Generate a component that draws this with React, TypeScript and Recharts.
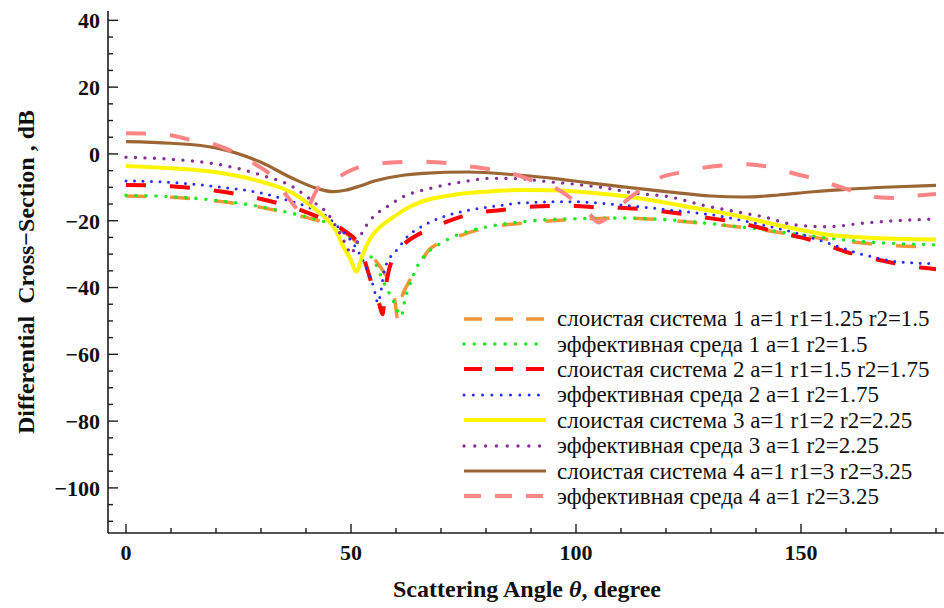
import React from 'react'
import { LineChart, Line, XAxis, YAxis, Legend } from 'recharts'

// scattering angle (degree), differential cross-section (dB)
const layered1 = [
  [0, -12.6], [10, -13.0], [20, -14.1], [30, -16.0], [35, -17.4], [40, -19.0], [45, -21.0], [48, -23.0],
  [52, -27.3], [54.5, -30.5], [56.5, -33.8], [58.5, -38.5], [59.7, -43.5], [60.4, -49.5], [61.3, -43.0],
  [62.4, -39.5], [64.7, -34.5], [67.5, -28.5], [72, -25.7], [78, -22.8], [81.5, -21.8], [90, -20.5],
  [100, -19.6], [110, -19.2], [120, -19.8], [130, -21.0], [140, -22.5], [150, -24.5], [160, -26.2],
  [170, -27.4], [180, -27.8],
]
const effective1 = [
  [0, -12.4], [10, -12.8], [20, -13.9], [30, -15.8], [35, -17.2], [40, -18.8], [45, -20.8], [48, -23.0],
  [50, -25.0], [53.5, -29.3], [55.5, -33.0], [57, -37.7], [59.3, -43.7], [61.2, -48.5], [62, -43.5],
  [62.7, -40.5], [63.8, -36.5], [65, -33.0], [67, -29.5], [69, -27.6], [72.7, -24.8], [76, -23.2],
  [80, -21.9], [87.6, -20.4], [95, -19.6], [100, -19.4], [110, -19.2], [120, -19.7], [130, -20.9],
  [140, -22.4], [150, -24.2], [160, -25.8], [170, -26.8], [180, -27.2],
]
const layered2 = [
  [0, -9.3], [10, -9.7], [20, -11.0], [30, -13.5], [35, -15.2], [40, -17.4], [45, -20.3], [48.3, -22.8],
  [52, -27.8], [53.5, -34.0], [55, -40.5], [56.3, -45.0], [57, -48.0], [57.6, -41.0], [58.3, -35.5],
  [60.2, -29.6], [62, -26.8], [64.7, -24.3], [67.5, -22.5], [73.5, -19.2], [77.5, -17.7], [83.5, -16.8],
  [87.5, -16.0], [95, -15.6], [100, -15.6], [105, -16.0], [110, -16.1], [115, -16.6], [120, -17.3],
  [125, -18.2], [130, -19.3], [135, -20.3], [140, -21.8], [145, -23.5], [150, -25.0], [155, -26.9],
  [160, -29.3], [165, -31.0], [170, -32.5], [175, -33.7], [180, -34.5],
]
const effective2 = [
  [0, -8.1], [10, -8.5], [20, -9.8], [30, -11.7], [35, -13.5], [40, -15.7], [44.7, -18.8], [47.6, -22.5],
  [50.5, -26.8], [52.7, -32.0], [54, -36.0], [55, -39.7], [56, -44.6], [56.6, -41.5], [57.3, -35.5],
  [58.5, -31.5], [60.2, -28.7], [62.7, -24.5], [65, -22.3], [70.5, -18.8], [76.4, -16.8], [84, -15.3],
  [87.6, -14.7], [98.7, -14.3], [110, -15.3], [121, -16.8], [132, -18.6], [141.6, -21.3], [149, -23.7],
  [156, -26.7], [164, -30.2], [171, -32.2], [180, -32.9],
]
const layered3 = [
  [0, -3.6], [10, -4.3], [20, -5.5], [30, -8.3], [37, -11.7], [42, -16.5], [44.6, -19.5], [46.8, -23.3],
  [48.3, -27.8], [49.7, -31.0], [51.2, -35.2], [52.5, -30.5], [54.2, -25.5], [56.5, -21.8], [58.7, -19.6],
  [62, -16.6], [65.3, -14.5], [72.7, -12.3], [80, -11.3], [87.6, -10.8], [95, -10.9], [102, -11.5],
  [113.6, -13.2], [124.7, -15.8], [135, -18.3], [141.6, -20.3], [149, -22.5], [156.4, -24.3], [164, -25.0],
  [171, -25.4], [180, -25.6],
]
const effective3 = [
  [0, -1.0], [10, -1.6], [20, -3.0], [30, -6.3], [37, -9.8], [42, -14.7], [44.7, -17.7], [47, -22.5],
  [49, -27.5], [50, -30.0], [51, -27.5], [52.5, -23.5], [54, -20.3], [56, -17.6], [58, -15.8], [61.6, -12.8],
  [67.6, -10.3], [75, -8.3], [81, -7.3], [87, -7.4], [93, -8.2], [100, -9.1], [106, -10.1], [113, -11.7],
  [121, -12.9], [128, -15.3], [136, -17.4], [141.6, -18.8], [149, -21.3], [156, -21.8], [164, -20.7],
  [171, -20.0], [180, -19.5],
]
const layered4 = [
  [0, 3.7], [10, 3.2], [20, 1.8], [30, -2.5], [37, -7.3], [42.4, -10.3], [46, -11.3], [49, -10.8],
  [52, -9.6], [55, -8.2], [58, -7.2], [62, -6.3], [66, -5.8], [76, -5.4], [87, -6.3], [95, -7.3],
  [102, -8.5], [110, -9.8], [120, -11.3], [130, -12.6], [137, -12.9], [145, -12.3], [152, -11.4],
  [160, -10.6], [170, -9.9], [180, -9.4],
]
const effective4 = [
  [0, 6.2], [5, 6.1], [10, 5.6], [14.3, 4.2], [20, 2.7], [24, 0.5], [29, -3.3], [32.2, -6.3], [36, -13.0],
  [38.2, -16.8], [39.6, -18.5], [41, -14.7], [42.7, -10.2], [46, -7.8], [51.3, -4.2], [54.2, -3.3],
  [60, -2.5], [65, -2.3], [71.3, -2.7], [75.8, -3.6], [81.6, -4.8], [86.9, -6.3], [90, -7.8], [95, -9.9],
  [100, -14.5], [103, -18.0], [105, -20.5], [107, -19.0], [110, -15.3], [115, -10.0], [118, -7.5],
  [124, -5.3], [128, -4.2], [134, -3.3], [137, -3.1], [140, -3.3], [144, -4.2], [148, -5.7], [154, -7.8],
  [158, -9.6], [163, -11.7], [167, -13.0], [171, -13.2], [175, -12.6], [180, -12.0],
]

const xTicks = [0, 10, 20, 30, 40, 50, 60, 70, 80, 90, 100, 110, 120, 130, 140, 150, 160, 170, 180]
const xLabelled = [0, 50, 100, 150]
const yTicks = [
  -110, -105, -100, -95, -90, -85, -80, -75, -70, -65, -60, -55, -50, -45, -40, -35, -30, -25, -20,
  -15, -10, -5, 0, 5, 10, 15, 20, 25, 30, 35, 40,
]
const yLabelled = [-100, -80, -60, -40, -20, 0, 20, 40]

const series = [
  { name: 'слоистая система 1 a=1 r1=1.25 r2=1.5', data: layered1, color: '#f7953a', width: 3.5, dash: '20 24', legendDash: '18 13', cap: 'butt' },
  { name: 'эффективная среда 1 a=1 r2=1.5', data: effective1, color: '#1fe81f', width: 3.6, dash: '0 10', legendDash: '0 10.3', cap: 'round' },
  { name: 'слоистая система 2 a=1 r1=1.5 r2=1.75', data: layered2, color: '#ff0000', width: 4, dash: '20 24', legendDash: '18 13', cap: 'butt' },
  { name: 'эффективная среда 2 a=1 r2=1.75', data: effective2, color: '#2b2bff', width: 3, dash: '0 8.5', legendDash: '0 9.3', cap: 'round' },
  { name: 'слоистая система 3 a=1 r1=2 r2=2.25', data: layered3, color: '#fbf500', width: 4, dash: undefined, legendDash: undefined, cap: 'butt' },
  { name: 'эффективная среда 3 a=1 r2=2.25', data: effective3, color: '#86309a', width: 3.4, dash: '0 9.5', legendDash: '0 10.8', cap: 'round' },
  { name: 'слоистая система 4 a=1 r1=3 r2=3.25', data: layered4, color: '#9c6634', width: 3.2, dash: undefined, legendDash: undefined, cap: 'butt' },
  { name: 'эффективная среда 4 a=1 r2=3.25', data: effective4, color: '#ff8585', width: 4, dash: '20 24', legendDash: '17 14', cap: 'butt' },
]

const toPoints = (pts: number[][]) => pts.map(([angle, db]) => ({ angle, db }))

const frame = '#1c1c1c'
const serif = '"Liberation Serif", "Times New Roman", serif'
const LEFT_GAP = 8
const BOTTOM_GAP = 12

const fmt = (v: number) => (v < 0 ? '\u2212' + Math.abs(v) : String(v))

function LeftTick(props: any) {
  const { x, y, payload } = props
  const v = payload.value
  const major = yLabelled.includes(v)
  const ax = x + LEFT_GAP
  return (
    <g>
      <line x1={ax} x2={ax + (major ? 10 : 5)} y1={y} y2={y} stroke={frame} strokeWidth={1.4} />
      {major && (
        <text x={x} y={y} dy="0.36em" textAnchor="end" fontFamily={serif} fontWeight="bold" fontSize={22} fill="#111">
          {fmt(v)}
        </text>
      )}
    </g>
  )
}

function BottomTick(props: any) {
  const { x, y, payload } = props
  const v = payload.value
  const major = xLabelled.includes(v)
  const ay = y - BOTTOM_GAP
  return (
    <g>
      <line x1={x} x2={x} y1={ay} y2={ay - (major ? 9 : 5)} stroke={frame} strokeWidth={1.4} />
      {major && (
        <text x={x} y={y} dy="0.68em" textAnchor="middle" fontFamily={serif} fontWeight="bold" fontSize={22} fill="#111">
          {fmt(v)}
        </text>
      )}
    </g>
  )
}

function TopTick(props: any) {
  const { x, y, payload } = props
  const major = xLabelled.includes(payload.value)
  return <line x1={x} x2={x} y1={y} y2={y + (major ? 9 : 5)} stroke={frame} strokeWidth={1.4} />
}

function RightTick(props: any) {
  const { x, y, payload } = props
  const major = yLabelled.includes(payload.value)
  return <line x1={x} x2={x - (major ? 10 : 5)} y1={y} y2={y} stroke={frame} strokeWidth={1.4} />
}

function XTitle(props: any) {
  const { x, y, width, height } = props.viewBox
  return (
    <text x={x + width / 2 - 4} y={y + height - 11} textAnchor="middle" fontFamily={serif} fontWeight="bold" fontSize={24} fill="#111">
      Scattering Angle <tspan fontStyle="italic">θ</tspan>, degree
    </text>
  )
}

function YTitle(props: any) {
  const { x, y, height } = props.viewBox
  const cx = x + 18
  const cy = y + height / 2
  return (
    <text x={cx} y={cy} dy="0.35em" transform={`rotate(-90 ${cx} ${cy})`} textAnchor="middle" fontFamily={serif} fontWeight="bold" fontSize={24} fill="#111">
      {'Differential\u00a0\u00a0Cross\u2212Section , dB'}
    </text>
  )
}

function LegendBox() {
  return (
    <div style={{ fontFamily: serif, fontSize: 23, color: '#111' }}>
      {series.map((s) => (
        <div key={s.name} style={{ display: 'flex', alignItems: 'center', height: 25.4 }}>
          <svg width={92} height={14} style={{ flex: 'none' }}>
            <line x1={4} x2={86} y1={7} y2={7} stroke={s.color} strokeWidth={s.width} strokeDasharray={s.legendDash} strokeLinecap={s.cap as any} />
          </svg>
          <span style={{ marginLeft: 5, whiteSpace: 'nowrap', lineHeight: '25px' }}>{s.name}</span>
        </div>
      ))}
    </div>
  )
}

export default function App() {
  return (
    <div style={{ position: 'absolute', left: 0, top: 0, width: 944, height: 608, overflow: 'hidden', background: '#fff' }}>
      <LineChart width={956} height={608} margin={{ top: 11, right: 2, bottom: 0, left: 8 }}>
        <XAxis
          xAxisId={0}
          dataKey="angle"
          type="number"
          domain={[-4, 184]}
          allowDataOverflow
          ticks={xTicks}
          interval={0}
          height={75}
          tickSize={0}
          tickMargin={BOTTOM_GAP}
          tickLine={false}
          tick={<BottomTick />}
          axisLine={{ stroke: frame, strokeWidth: 1.6 }}
          label={<XTitle />}
        />
        <XAxis
          xAxisId="top"
          orientation="top"
          dataKey="angle"
          type="number"
          domain={[-4, 184]}
          allowDataOverflow
          ticks={xTicks}
          interval={0}
          height={0}
          tickSize={0}
          tickMargin={0}
          tickLine={false}
          tick={<TopTick />}
          axisLine={{ stroke: frame, strokeWidth: 1.6 }}
        />
        <YAxis
          yAxisId={0}
          type="number"
          domain={[-113.5, 42.8]}
          allowDataOverflow
          ticks={yTicks}
          interval={0}
          width={100}
          tickSize={0}
          tickMargin={LEFT_GAP}
          tickLine={false}
          tick={<LeftTick />}
          axisLine={{ stroke: frame, strokeWidth: 1.6 }}
          label={<YTitle />}
        />
        <YAxis
          yAxisId="right"
          orientation="right"
          type="number"
          domain={[-113.5, 42.8]}
          allowDataOverflow
          ticks={yTicks}
          interval={0}
          width={0}
          tickSize={0}
          tickMargin={0}
          tickLine={false}
          tick={<RightTick />}
          axisLine={{ stroke: frame, strokeWidth: 1.6 }}
        />
        {series.map((s) => (
          <Line
            key={s.name}
            data={toPoints(s.data)}
            dataKey="db"
            type="monotone"
            stroke={s.color}
            strokeWidth={s.width}
            strokeDasharray={s.dash}
            strokeLinecap={s.cap as any}
            dot={false}
            activeDot={false}
            isAnimationActive={false}
          />
        ))}
        <Legend
          layout="vertical"
          align="center"
          verticalAlign="middle"
          content={() => <LegendBox />}
          wrapperStyle={{ left: 460, top: 306, width: 484 }}
        />
      </LineChart>
    </div>
  )
}
